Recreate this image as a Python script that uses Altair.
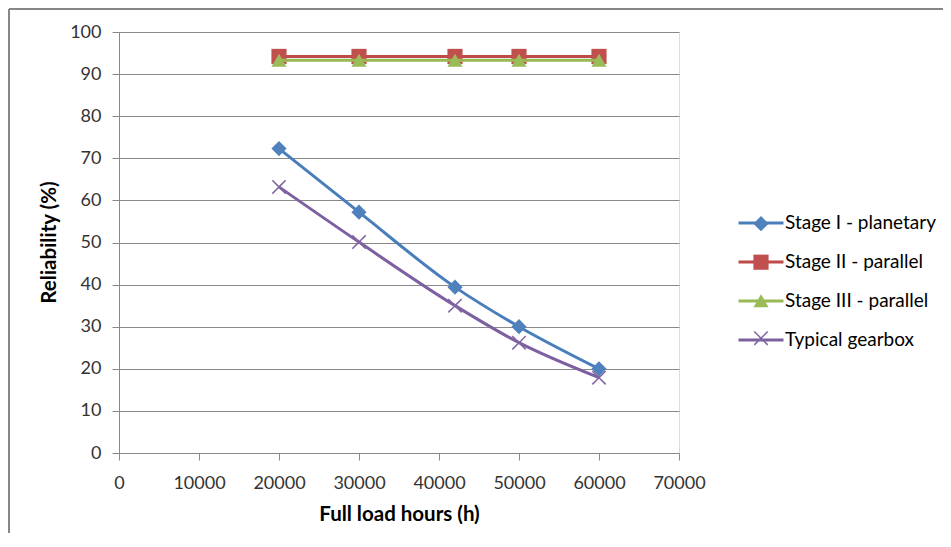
import altair as alt
import pandas as pd

# ---- data ----
series = ["Stage I - planetary", "Stage II - parallel", "Stage III - parallel", "Typical gearbox"]
hours = [20000, 30000, 42000, 50000, 60000]
stage1 = [72.3, 57.2, 39.4, 30.0, 20.0]
stage2 = [94.2, 94.2, 94.2, 94.2, 94.2]
stage3 = [93.3, 93.3, 93.3, 93.3, 93.3]
typical = [63.2, 50.1, 35.0, 26.2, 17.9]
x_ticks = [0, 10000, 20000, 30000, 40000, 50000, 60000, 70000]
y_ticks = [0, 10, 20, 30, 40, 50, 60, 70, 80, 90, 100]

line_colors = ["#4A7EBB", "#BE4B48", "#98B954", "#7D60A0"]
marker_colors = ["#4F81BD", "#C0504D", "#9BBB59", "#8064A2"]
X_PATH = ("M0.814,-0.955L0.955,-0.814L0.141,0L0.955,0.814L0.814,0.955L0,0.141"
          "L-0.814,0.955L-0.955,0.814L-0.141,0L-0.955,-0.814L-0.814,-0.955L0,-0.141Z")
shapes = ["diamond", "square", "triangle-up", X_PATH]

rows = []
for name, vals in zip(series, [stage1, stage2, stage3, typical]):
    for h, v in zip(hours, vals):
        rows.append({"name": name, "series": name, "hours": h, "rel": v})
df = pd.DataFrame(rows)

FONT = "Lato"
GRID = "#898989"

x_enc = alt.X(
    "hours:Q",
    scale=alt.Scale(domain=[0, 70000], nice=False, zero=False),
    axis=alt.Axis(
        values=x_ticks, format="d", grid=False, title="Full load hours (h)",
        domainColor=GRID, tickColor=GRID, tickSize=7, labelPadding=14, labelFlush=False,
        labelFont=FONT, labelFontSize=18, labelColor="#333333",
        titleFont=FONT, titleFontSize=20.5, titleFontWeight="bold", titleColor="#000000",
        titleX=280, titleY=61, titleBaseline="middle", titleAlign="center",
    ),
)
y_enc = alt.Y(
    "rel:Q",
    scale=alt.Scale(domain=[0, 100], nice=False),
    axis=alt.Axis(
        values=y_ticks, format="d", grid=True, gridColor=GRID, gridWidth=1,
        title="Reliability (%)", labelFlush=False,
        domainColor=GRID, tickColor=GRID, tickSize=7, labelPadding=11,
        labelFont=FONT, labelFontSize=18, labelColor="#333333",
        titleFont=FONT, titleFontSize=20.5, titleFontWeight="bold", titleColor="#000000",
        titleX=-69.5, titleY=210, titleBaseline="middle", titleAlign="center", titleAngle=270,
    ),
)

line_legend = alt.Legend(
    orient="none", legendX=618, legendY=167, title=None, padding=0,
    symbolType="stroke", symbolSize=2025, symbolStrokeWidth=3, symbolOpacity=1,
    labelFont=FONT, labelFontSize=19, labelColor="#000000", labelOffset=0,
    labelLimit=300, rowPadding=5,
)
point_legend = alt.Legend(
    orient="none", legendX=634, legendY=183.7, title=None, padding=0,
    symbolSize=230, symbolStrokeWidth=0, symbolOpacity=1,
    labelExpr="''", labelFontSize=1, labelOffset=0,
    rowPadding=22.5,
)

layers = []
for s in series:
    sub = alt.Chart(df).transform_filter(alt.datum.series == s)
    line = sub.mark_line(strokeWidth=3, interpolate="monotone").encode(
        x=x_enc, y=y_enc,
        stroke=alt.Stroke("name:N", scale=alt.Scale(range=line_colors), legend=line_legend),
    )
    pts = sub.mark_point(filled=True, size=230, opacity=1, strokeWidth=0).encode(
        x=x_enc, y=y_enc,
        fill=alt.Fill("series:N", scale=alt.Scale(range=marker_colors), legend=point_legend),
        shape=alt.Shape("series:N", scale=alt.Scale(range=shapes), legend=point_legend),
    )
    layers += [line, pts]

frame = alt.Data(values=[{"k": 1}])
left_border = alt.Chart(frame).mark_rule(color="#868686", strokeWidth=2).encode(
    x=alt.value(-110), y=alt.value(-23), y2=alt.value(501)
)
top_border = alt.Chart(frame).mark_rule(color="#868686", strokeWidth=2).encode(
    x=alt.value(-110), x2=alt.value(824), y=alt.value(-23)
)

chart = (
    alt.layer(left_border, top_border, *layers)
    .properties(
        width=560, height=421,
        autosize=alt.AutoSizeParams(type="none"),
        padding={"left": 111, "top": 24, "right": 264, "bottom": 80},
        background="#ffffff",
    )
    .configure_view(stroke=None)
    .configure(font=FONT)
)

chart.save("out.html", embed_options={"renderer": "svg", "actions": False})
